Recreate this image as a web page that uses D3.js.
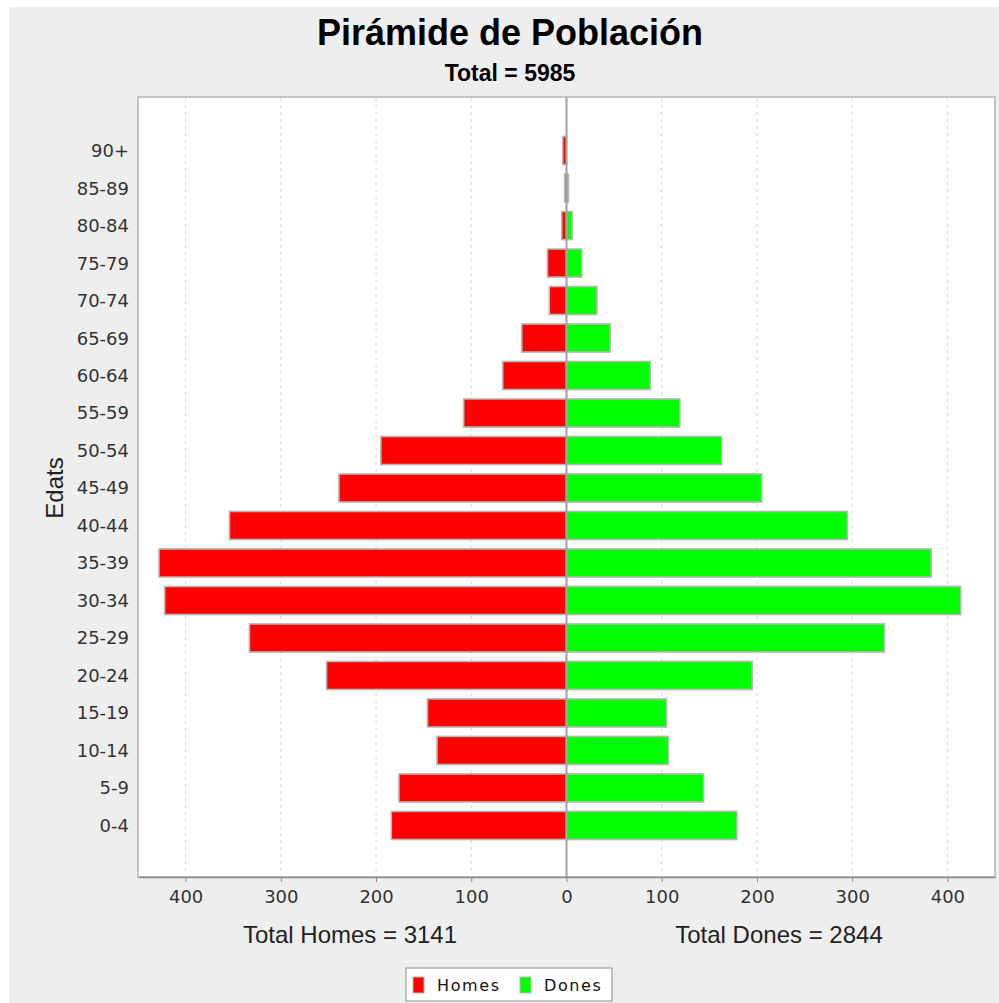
<!DOCTYPE html><html><head><meta charset="UTF-8"><script src="https://d3js.org/d3.v7.min.js"></script><style>
  body { margin: 0; background: #fff; }
  .cat, .tick text { font-family: "DejaVu Sans", sans-serif; font-size: 18px; fill: #333; }
  .lbl { font-family: "Liberation Sans", Arial, sans-serif; font-size: 24px; fill: #222; }
</style></head><body><div id="chart"></div><script>
const ageGroups = ["0-4","5-9","10-14","15-19","20-24","25-29","30-34","35-39","40-44","45-49","50-54","55-59","60-64","65-69","70-74","75-79","80-84","85-89","90+"];
const homes = [184,176,136,146,252,333,422,428,354,239,195,108,67,47,18,20,5,2,4];
const dones = [179,144,107,105,195,334,414,383,295,205,163,119,88,46,32,16,6,2,0];
const tickValues = [-400,-300,-200,-100,0,100,200,300,400];
const totalHomes = 3141, totalDones = 2844;

const W = 999, H = 1003;
const plot = {left: 138, right: 995, top: 97, bottom: 877};

const svg = d3.select('#chart').append('svg')
  .attr('width', W).attr('height', H);

svg.append('rect').attr('x', 9).attr('y', 7).attr('width', W - 9).attr('height', H - 7).attr('fill', '#eeeeee');

svg.append('text').attr('x', 510).attr('y', 45).attr('text-anchor', 'middle')
  .style('font-family', '"Liberation Sans", Arial, sans-serif').style('font-size', '36px').style('font-weight', 'bold')
  .text('Pirámide de Población');
svg.append('text').attr('x', 510).attr('y', 81).attr('text-anchor', 'middle')
  .style('font-family', '"Liberation Sans", Arial, sans-serif').style('font-size', '23px').style('font-weight', 'bold')
  .text('Total = ' + (totalHomes + totalDones));

const x = d3.scaleLinear().domain([-450, 450]).range([plot.left, plot.right]);
const y = d3.scaleBand().domain(ageGroups.slice().reverse())
  .range([plot.top + 2, plot.bottom]).paddingInner(0.25).paddingOuter(1.0);

svg.append('rect').attr('x', plot.left).attr('y', plot.top)
  .attr('width', plot.right - plot.left).attr('height', plot.bottom - plot.top)
  .attr('fill', '#fff').attr('stroke', '#c4c4c4').attr('stroke-width', 2);

// gridlines
svg.append('g').selectAll('line').data(tickValues.filter(d => d !== 0)).enter().append('line')
  .attr('x1', d => x(d)).attr('x2', d => x(d))
  .attr('y1', plot.top + 1).attr('y2', plot.bottom)
  .attr('stroke', '#d6d6d6').attr('stroke-dasharray', '3,4');

const rows = ageGroups.map((g, i) => ({g, h: homes[i], d: dones[i]}));

svg.append('g').selectAll('rect').data(rows).enter().append('rect')
  .attr('x', d => x(-d.h)).attr('y', d => y(d.g))
  .attr('width', d => x(0) - x(-d.h)).attr('height', y.bandwidth())
  .attr('fill', '#ff0000').attr('stroke', '#b8b8b8').attr('stroke-width', 1.6);

svg.append('g').selectAll('rect').data(rows).enter().append('rect')
  .attr('x', x(0)).attr('y', d => y(d.g))
  .attr('width', d => x(d.d) - x(0)).attr('height', y.bandwidth())
  .attr('fill', '#00ff00').attr('stroke', '#b8b8b8').attr('stroke-width', 1.6);

// zero line
svg.append('line').attr('x1', x(0)).attr('x2', x(0)).attr('y1', plot.top).attr('y2', plot.bottom)
  .attr('stroke', '#a0a0a0').attr('stroke-width', 2);

// category labels
svg.append('g').selectAll('text').data(ageGroups).enter().append('text')
  .attr('class', 'cat').attr('x', 129).attr('y', d => y(d) + y.bandwidth() / 2).attr('dy', '0.36em')
  .attr('text-anchor', 'end').text(d => d);

// x axis
const xAxis = svg.append('g').attr('transform', `translate(0,${plot.bottom})`)
  .call(d3.axisBottom(x).tickValues(tickValues).tickFormat(d => Math.abs(d))
    .tickSizeInner(5).tickSizeOuter(0).tickPadding(8));
xAxis.select('.domain').attr('stroke', '#8a8a8a').attr('stroke-width', 1.5);
xAxis.selectAll('.tick line').attr('stroke', '#8a8a8a');

svg.append('text').attr('class', 'lbl').attr('x', 350).attr('y', 943).attr('text-anchor', 'middle')
  .text('Total Homes = ' + totalHomes);
svg.append('text').attr('class', 'lbl').attr('x', 779).attr('y', 943).attr('text-anchor', 'middle')
  .text('Total Dones = ' + totalDones);

svg.append('text').attr('class', 'lbl').attr('transform', 'translate(63,488) rotate(-90)')
  .attr('text-anchor', 'middle').text('Edats');

// legend
const legend = svg.append('g');
legend.append('rect').attr('x', 406).attr('y', 968).attr('width', 206).attr('height', 33)
  .attr('fill', '#fff').attr('stroke', '#8c8c8c');
const items = [{name: 'Homes', color: '#ff0000', x: 413}, {name: 'Dones', color: '#00ff00', x: 520}];
items.forEach(it => {
  legend.append('rect').attr('x', it.x).attr('y', 977).attr('width', 11).attr('height', 16)
    .attr('fill', it.color).attr('stroke', '#b8b8b8').attr('stroke-width', 1);
  legend.append('text').attr('x', it.x + 24).attr('y', 991)
    .style('font-family', '"DejaVu Sans", sans-serif').style('font-size', '16px').style('letter-spacing', '1.6px')
    .attr('fill', '#111').text(it.name);
});
</script></body></html>
